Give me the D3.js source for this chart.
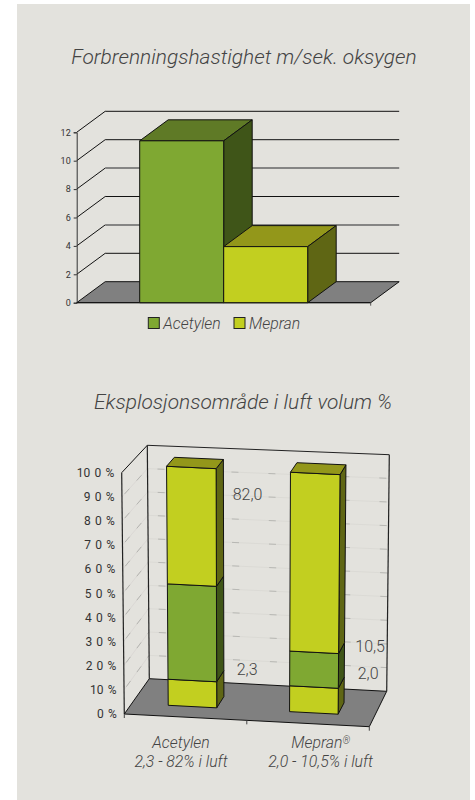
<!DOCTYPE html>
<html>
<head>
<meta charset="utf-8">
<script src="https://cdn.jsdelivr.net/npm/d3@7"></script>
<style>
    html, body { margin: 0; padding: 0; background: #fff; }
    svg { display: block; font-family: Roboto, sans-serif; }
    text { fill: #444; }
    .it { font-style: italic; font-weight: 300; }
</style>
</head>
<body>
<div id="chart"></div>
<script>
// Burn rate chart
const speedCategories = ['Acetylen', 'Mepran'];
const speedValues = [11.4, 3.95];
const speedTicks = [0, 2, 4, 6, 8, 10, 12];

// Explosion range chart
const rangeCategories = ['Acetylen', 'Mepran'];
const rangeBelow = [10.9, 10.8];
const rangeInside = [39.9, 14.5];
const rangeAbove = [49.2, 74.7];
const rangeTicks = [0, 10, 20, 30, 40, 50, 60, 70, 80, 90, 100];
const rangeTickLabels = ['0 %', '10 %', '2 0 %', '3 0 %', '4 0 %', '5 0 %', '6 0 %', '7 0 %', '8 0 %', '9 0 %', '10 0 %'];
const rangeCaptions = ['2,3 - 82% i luft', '2,0 - 10,5% i luft'];
const rangeCategoryNames = ['Acetylen', 'Mepran'];
const rangeValueLabels = ['82,0', '2,3', '10,5', '2,0'];

const GREEN = {front: '#7fa832', top: '#5f7a26', side: '#3f5518'};
const YELLOW = {front: '#c2cf20', top: '#93971a', side: '#5f6614'};

const svg = d3.select('#chart').append('svg')
    .attr('width', 475)
    .attr('height', 800);

svg.append('rect')
    .attr('x', 17).attr('y', 4)
    .attr('width', 453).attr('height', 796)
    .attr('fill', '#e3e2dd');

function poly(g, pts, fill, stroke = '#111', width = 1) {
    return g.append('path')
        .attr('d', d3.line()(pts) + 'Z')
        .attr('fill', fill)
        .attr('stroke', stroke)
        .attr('stroke-width', width)
        .attr('stroke-linejoin', 'round');
}

function seg(g, a, b, stroke, width = 1) {
    return g.append('line')
        .attr('x1', a[0]).attr('y1', a[1])
        .attr('x2', b[0]).attr('y2', b[1])
        .attr('stroke', stroke)
        .attr('stroke-width', width);
}

// First chart: bars with a fixed oblique depth
function drawSpeedChart() {
    const g = svg.append('g');
    const dx = 28.5, dy = -21;
    const x = d3.scaleBand().domain(speedCategories)
        .range([76.7, 370.7]).paddingInner(0).paddingOuter(0.75);
    const y = d3.scaleLinear().domain([0, 12]).range([302.7, 132.3]);
    const left = x.range()[0], right = x.range()[1];

    g.append('text').attr('class', 'it')
        .attr('x', 244).attr('y', 64)
        .attr('text-anchor', 'middle')
        .attr('font-size', 20.9)
        .text('Forbrenningshastighet m/sek. oksygen');

    poly(g, [[left, y(0)], [left + dx, y(0) + dy], [right + dx, y(0) + dy], [right, y(0)]], '#808080');

    speedTicks.slice(1).forEach(t => {
        const gray = t === 8 || t === 4;
        seg(g, [left, y(t)], [left + dx, y(t) + dy], '#111');
        seg(g, [left + dx, y(t) + dy], [right + dx, y(t) + dy], gray ? '#666' : '#111', gray ? 1.5 : 1);
    });

    const axis = g.append('g')
        .attr('transform', `translate(${left},0)`)
        .call(d3.axisLeft(y).tickValues(speedTicks).tickSize(3).tickPadding(3));
    axis.selectAll('path, line').attr('stroke', '#333');
    axis.selectAll('text').attr('font-size', 9).attr('font-family', 'Roboto').style('fill', '#333');

    seg(g, [left, y(0)], [right, y(0)], '#111');
    seg(g, [right, y(0)], [right, y(0) + 3], '#555');

    speedCategories.forEach((c, i) => {
        const c0 = i === 0 ? GREEN : YELLOW;
        const x0 = x(c), x1 = x0 + x.bandwidth();
        const top = y(speedValues[i]), base = y(0);
        poly(g, [[x0, top], [x0 + dx, top + dy], [x1 + dx, top + dy], [x1, top]], c0.top);
        poly(g, [[x1, top], [x1 + dx, top + dy], [x1 + dx, base + dy], [x1, base]], c0.side);
        poly(g, [[x0, top], [x1, top], [x1, base], [x0, base]], c0.front);
    });

    // Legend
    const legendX = [148.3, 234];
    speedCategories.forEach((c, i) => {
        g.append('rect')
            .attr('x', legendX[i]).attr('y', 317.5)
            .attr('width', 11).attr('height', 11)
            .attr('fill', i === 0 ? GREEN.front : YELLOW.front)
            .attr('stroke', '#222');
        g.append('text').attr('class', 'it')
            .attr('x', legendX[i] + 15).attr('y', 328.5)
            .attr('font-size', 15.8)
            .text(c);
    });
}

// Second chart: box in perspective, interpolated between its eight corners
function drawRangeChart() {
    const g = svg.append('g');
    const corners = {
        fb0: [124.3, 714], fb1: [369.3, 726.7], bb0: [149.3, 678.7], bb1: [386.7, 691.3],
        ft0: [121.7, 472.7], ft1: [372, 485.7], bt0: [147.3, 445.3], bt1: [389.3, 454.7]
    };
    const v = d3.scaleLinear().domain([0, 100]).range([0, 1]);
    const band = d3.scaleBand().domain(rangeCategories)
        .range([0, 1]).paddingInner(0.6).paddingOuter(0.3);

    function project(u, value, w) {
        const t = v(value);
        const mix = (a, b, k) => [a[0] + (b[0] - a[0]) * k, a[1] + (b[1] - a[1]) * k];
        const front = mix(mix(corners.fb0, corners.fb1, u), mix(corners.ft0, corners.ft1, u), t);
        const back = mix(mix(corners.bb0, corners.bb1, u), mix(corners.bt0, corners.bt1, u), t);
        return mix(front, back, w);
    }

    g.append('text').attr('class', 'it')
        .attr('x', 243).attr('y', 409)
        .attr('text-anchor', 'middle')
        .attr('font-size', 20.9)
        .text('Eksplosjonsområde i luft volum %');

    // Grid on the left and back walls
    rangeTicks.slice(1, -1).forEach(t => {
        const a = project(0, t, 0), b = project(0, t, 1), c = project(1, t, 1);
        seg(g, a, b, '#dbd8d5');
        seg(g, b, c, '#dbdad5');
        seg(g, a, b, '#b4b4b0').attr('stroke-dasharray', '7 11').attr('stroke-dashoffset', -4);
        seg(g, b, c, '#b8b8b4').attr('stroke-dasharray', '7 30').attr('stroke-dashoffset', -10);
    });

    // Walls
    seg(g, corners.ft0, corners.bt0, '#111');
    seg(g, corners.bt0, corners.bt1, '#222');
    seg(g, corners.ft0, corners.fb0, '#222', 1.2);
    seg(g, corners.bt0, corners.bb0, '#222', 1.2);
    seg(g, corners.bt1, corners.bb1, '#222', 1.2);

    // Floor
    poly(g, [corners.fb0, corners.bb0, corners.bb1, corners.fb1], '#808080', '#111', 1);
    [0, 0.5, 1].forEach(u => {
        const p = project(u, 0, 0);
        seg(g, p, [p[0], p[1] + 4], '#444');
    });

    // Y tick labels follow the slanted axis
    rangeTicks.forEach((t, i) => {
        const p = project(0, t, 0);
        g.append('text')
            .attr('x', p[0] - 7.5).attr('y', p[1])
            .attr('dy', '.35em')
            .attr('text-anchor', 'end')
            .attr('font-size', 12)
            .attr('word-spacing', 1.2)
            .style('fill', '#333')
            .text(rangeTickLabels[i]);
    });

    // Stacked bars
    const w0 = 0.3, w1 = 0.62;
    rangeCategories.forEach((c, i) => {
        const u0 = band(c), u1 = u0 + band.bandwidth();
        const parts = [
            [rangeBelow[i], YELLOW],
            [rangeInside[i], GREEN],
            [rangeAbove[i], YELLOW]
        ];
        let acc = 0;
        parts.forEach(([val, col]) => {
            const lo = acc, hi = acc + val;
            poly(g, [project(u1, lo, w0), project(u1, lo, w1), project(u1, hi, w1), project(u1, hi, w0)], col.side);
            poly(g, [project(u0, lo, w0), project(u1, lo, w0), project(u1, hi, w0), project(u0, hi, w0)], col.front);
            acc = hi;
        });
        poly(g, [project(u0, acc, w0), project(u0, acc, w1), project(u1, acc, w1), project(u1, acc, w0)], YELLOW.top);
    });

    // Range labels beside the bars
    const labelX = [232.7, 236.7, 355.3, 357.7];
    const labelY = [500, 675, 652, 678.7];
    rangeValueLabels.forEach((t, i) => {
        g.append('text')
            .attr('x', labelX[i]).attr('y', labelY[i])
            .attr('font-size', 16)
            .attr('font-weight', 300)
            .text(t);
    });

    // Category captions, the registered mark on Mepran is set small and raised
    const captionX = [181, 320.7];
    rangeCategoryNames.forEach((name, i) => {
        const label = g.append('text').attr('class', 'it')
            .attr('x', captionX[i]).attr('y', 748)
            .attr('text-anchor', 'middle')
            .attr('font-size', 15.8)
            .text(name);
        if (name === 'Mepran') {
            label.append('tspan')
                .attr('font-size', 10)
                .attr('dy', -4)
                .text('®');
        }
        g.append('text').attr('class', 'it')
            .attr('x', captionX[i]).attr('y', 766.7)
            .attr('text-anchor', 'middle')
            .attr('font-size', 15.8)
            .text(rangeCaptions[i]);
    });
}

drawSpeedChart();
drawRangeChart();
</script>
</body>
</html>
